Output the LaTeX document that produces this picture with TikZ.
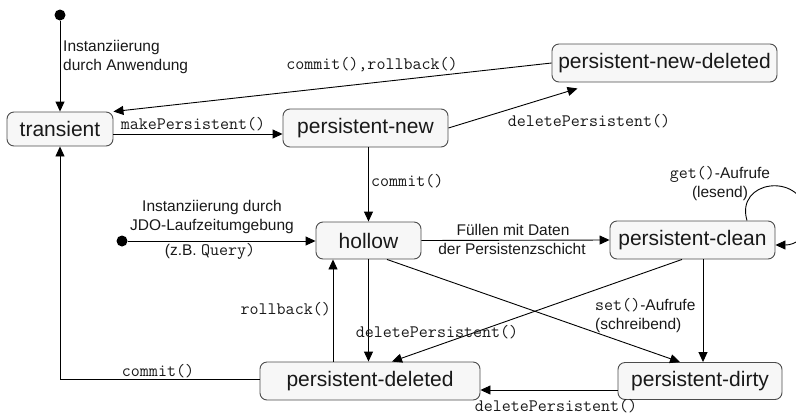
\documentclass[tikz,border=0pt]{standalone}
\usepackage{fontspec}
\setmainfont{Liberation Sans}
\usetikzlibrary{arrows.meta}
\begin{document}
\begin{tikzpicture}[x=1pt,y=-1pt,
  state/.style={draw=black!70, fill=black!3, rounded corners=7pt, inner sep=0pt,
    font=\fontsize{21}{21}\selectfont, text=black!90, line width=0.9pt, minimum height=38pt},
  tr/.style={draw, line width=0.9pt, -{Triangle[length=10pt,width=9pt]}},
  lbl/.style={font=\fontsize{15.5}{19}\selectfont, text=black!90, inner sep=0pt},
  ml/.style={font=\ttfamily\fontsize{17.5}{19}\selectfont, text=black!90, inner sep=0pt},
  init/.style={circle, fill=black, inner sep=0pt, minimum size=11pt}]
\useasboundingbox (0,0) rectangle (796,416);
\clip (0,0) rectangle (796,416);

% states
\node[state, minimum width=106pt, minimum height=34pt] (tr) at (60,129) {transient};
\node[state, minimum width=165pt] (pn) at (365.5,128) {persistent-new};
\node[state, minimum width=225pt] (pnd) at (664.5,63) {persistent-new-deleted};
\node[state, minimum width=105pt, minimum height=37pt] (ho) at (368.5,240.5) {hollow};
\node[state, minimum width=165pt] (pc) at (692.5,240) {persistent-clean};
\node[state, minimum width=220pt] (pdel) at (370,381) {persistent-deleted};
\node[state, minimum width=164pt, minimum height=37pt] (pd) at (700,381) {persistent-dirty};

\node[init] (i1) at (60,15) {};
\node[init] (i2) at (122,241) {};

% helper coordinates
\coordinate (trE) at ([yshift=-5pt]tr.east);
\coordinate (pdW) at ([yshift=-9pt]pd.west);
\coordinate (pdelW) at ([yshift=2pt]pdel.west);
\coordinate (pcS1) at ([xshift=10.5pt]pc.south);
\coordinate (pcS2) at ([xshift=-10.5pt]pc.south);
\coordinate (hoS1) at ([xshift=-35.5pt]ho.south);
\coordinate (hoS2) at ([xshift=18.5pt]ho.south);

% transitions
\draw[tr] (i1) -- (tr.north);
\node[lbl, anchor=west, align=left] (l1) at (63,57) {Instanziierung\\durch Anwendung};

\draw[tr] (pnd.west) -- (tr.north east);
\node[ml] (l2) at (372,65) {commit(),rollback()};

\draw[tr] (trE) -- (pn.west |- trE);
\node[ml] (l3) at (193,124) {makePersistent()};

\draw[tr] (pn.east) -- ([xshift=-87pt,yshift=-6pt]pnd.south);
\node[ml] (l4) at (589,121) {deletePersistent()};

\draw[tr] (ho.north |- pn.south) -- (ho.north);
\node[ml, anchor=west] (l5) at (371,181) {commit()};

\draw[tr] (i2) -- (ho.west |- i2);
\node[lbl, align=center] (l6) at (212,217) {Instanziierung durch\\JDO-Laufzeitumgebung};
\node[lbl] (l7) at (210,251) {(z.B. \texttt{\fontsize{17.5}{19}\selectfont Query)}};

\draw[tr] (ho.east) -- (pc.west);
\node[lbl] (l8) at (513,230) {Füllen mit Daten};
\node[lbl] (l9) at (512,249) {der Persistenzschicht};

\draw[tr] ([xshift=54.5pt]pc.north) .. controls (735,180) and (800,172) .. (806,212)
  .. controls (810,238) and (795,245) .. ([yshift=-5pt]pc.east);
\node[lbl, align=center] (l10) at (720,184) {\texttt{\fontsize{17.5}{19}\selectfont get()}-Aufrufe\\(lesend)};

\draw[tr] (pcS1) -- (pcS1 |- pd.north);

\draw[tr] (pcS2) -- ([xshift=22pt]pdel.north);

\draw[tr] (ho.south) -- (ho.south |- pdel.north);

\draw[tr] (hoS1 |- pdel.north) -- (hoS1);
\node[ml, anchor=east] (l11) at (331,309) {rollback()};

\node[ml] (l12) at (437,332) {deletePersistent()};

\draw[tr] (hoS2) -- ([xshift=-20pt]pd.north);
\node[lbl, anchor=west, align=left] (l13) at (595,316) {\texttt{\fontsize{17.5}{19}\selectfont set()}-Aufrufe\\(schreibend)};

\draw[tr] (pdW) -- (pdel.east |- pdW);
\node[ml] (l14) at (556,406) {deletePersistent()};

\draw[tr] (pdelW) -- (tr.south |- pdelW) -- (tr.south);
\node[ml] (l15) at (158,371) {commit()};
\end{tikzpicture}
\end{document}
